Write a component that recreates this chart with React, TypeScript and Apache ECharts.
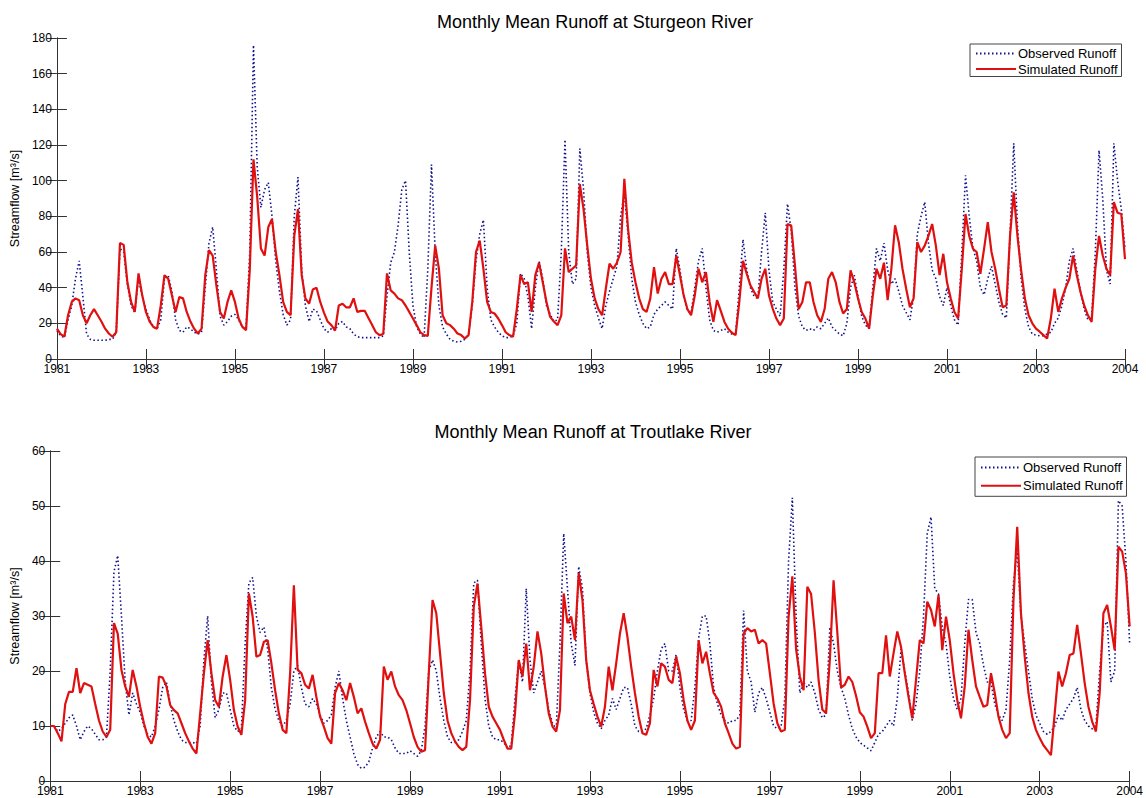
import React, { useEffect, useRef } from "react";
import * as echarts from "echarts";

const tickLabels = ["1981", "1983", "1985", "1987", "1989", "1991", "1993", "1995", "1997", "1999", "2001", "2003", "2004"];
const seriesNames = ["Observed Runoff", "Simulated Runoff"];
const titles = ["Monthly Mean Runoff at Sturgeon River", "Monthly Mean Runoff at Troutlake River"];
const yName = "Streamflow [m³/s]";

// Sturgeon River, monthly values from Jan 1981
const sturgeonObs = [
  16, 13, 12, 22, 30, 45, 55, 35, 14, 11, 10.5, 10.5,
  10.5, 10.5, 11, 11, 15, 62, 60, 42, 30, 26, 45, 35,
  28, 22, 18, 17, 22, 45, 47, 38, 22, 16, 15, 18,
  17, 15, 14, 15, 40, 65, 74, 50, 24, 19, 21, 24,
  25, 22, 18, 17, 60, 176, 108, 85, 95, 99, 80, 55,
  38, 25, 19, 22, 80, 102, 50, 30, 21, 28, 27, 22,
  17, 15, 17, 16, 20, 21, 18, 17, 14, 12.5, 12, 12,
  12, 12, 12, 12, 13, 35, 54, 60, 75, 95, 100, 60,
  30, 18, 14, 12, 50, 109, 60, 30, 18, 14, 11, 10,
  9.5, 10, 11, 14, 30, 55, 70, 78, 40, 22, 18, 15,
  13, 12, 12, 13, 20, 48, 45, 35, 17, 40, 55, 45,
  30, 25, 21, 22, 60, 123, 60, 42, 45, 118, 95, 60,
  40, 30, 23, 17, 30, 38, 45, 52, 80, 93, 70, 45,
  32, 25, 20, 17, 18, 25, 28, 30, 32, 30, 28, 62,
  50, 35, 27, 26, 40, 55, 62, 40, 22, 16, 15, 16,
  17, 15, 14, 14, 40, 67, 50, 40, 35, 34, 60, 82,
  50, 32, 28, 24, 50, 87, 72, 40, 24, 18, 16, 17,
  16, 18, 17, 20, 23, 18, 16, 14, 13, 20, 40, 47,
  35, 24, 19, 17, 40, 62, 55, 65, 50, 42, 45, 38,
  30, 26, 22, 35, 70, 80, 88, 65, 50, 45, 35, 30,
  40, 30, 22, 19, 60, 103, 80, 62, 55, 40, 36, 45,
  52, 42, 32, 25, 23, 70, 121, 75, 45, 28, 18, 14,
  13.4, 13, 13, 14, 15, 20, 23, 30, 40, 55, 62, 50,
  38, 28, 22, 23, 60, 117, 90, 50, 42, 121, 100, 84,
  62,
];
const sturgeonSim = [
  17, 14, 12.5, 24.5, 32, 34, 33, 24.5, 20, 24.5, 28, 24.5,
  21, 17, 14.3, 12.5, 15, 65, 64, 43, 32, 26.4, 48, 35.7,
  26.4, 21, 18, 17, 30, 47, 45, 35.7, 26.4, 34.8, 34, 26.4,
  21, 17, 14.3, 17, 47, 61, 58, 41.3, 26.4, 22.7, 32, 38.5,
  32, 22.7, 18, 16.2, 50, 112, 91, 62, 58, 74, 78.5, 60,
  47, 32, 26.4, 24.5, 69, 84, 47, 34, 31, 39, 40, 32,
  26, 21, 19, 16, 30, 31, 29, 29, 34, 26.4, 27, 27,
  23, 19, 15, 13.4, 14, 48, 38.5, 36.7, 34, 33, 30, 26.4,
  22.7, 19, 15, 13.4, 13, 40, 63.6, 50.6, 24.5, 20, 19, 17,
  14.3, 13.4, 11.5, 13.4, 32, 60, 66.4, 50.6, 32, 26.4, 25.5, 22.7,
  19, 15, 13.4, 12.5, 28, 47, 42, 43, 26.4, 47, 54, 43,
  32, 23.6, 21, 19, 24.5, 62, 48.7, 50.6, 52.5, 98, 84, 63.6,
  45, 34, 28, 24.5, 39.4, 53.4, 50.6, 54, 60, 101, 73, 54,
  43, 34, 28, 26.4, 34, 51.5, 36.7, 45, 48.7, 42, 42, 58,
  47, 35.7, 28, 24.5, 35.7, 50.6, 43, 48.7, 32, 20.8, 33, 27,
  20.8, 17, 14.7, 13.4, 32, 55, 47.8, 41.3, 37.6, 34, 45, 50.6,
  35.7, 28.3, 22.7, 19, 22.7, 75.7, 74.8, 52.5, 28, 32, 43, 43,
  32, 24.5, 20.8, 28, 45, 48.7, 43, 32, 25.5, 28, 49.7, 43,
  34, 26.4, 22.7, 17, 35.7, 50.6, 45, 54, 33, 50.6, 75, 65.5,
  50.6, 39.4, 29, 34, 65.5, 60, 63.6, 69, 75.7, 63.6, 47, 59,
  43, 34, 26.4, 22.7, 50.6, 81.3, 69, 61.8, 60, 47.8, 61.8, 76.7,
  60, 50.6, 39.4, 29, 30, 69, 93.4, 69, 49.7, 34, 24.5, 20,
  17, 15.3, 13.4, 11.5, 22.7, 39.4, 26.4, 34, 40, 45, 58, 47,
  37.6, 30, 24.5, 20.8, 50.6, 69, 58, 50.6, 47, 88, 82, 81.3,
  56,
];

// Troutlake River, monthly values from Jan 1981
const troutlakeObs = [
  10, 10, 9, 9.5, 10.5, 11.5, 12, 10, 7.5, 9, 10, 9.5,
  8.5, 7.5, 7.5, 8, 20, 38, 41, 30, 18, 12, 16, 14,
  12.5, 10, 8.5, 8, 10, 13, 17, 18, 14, 11, 9, 7.5,
  7, 7, 7, 6.8, 10, 22, 30, 18, 11.5, 13, 16, 16,
  13, 10, 9, 9.5, 25, 36, 37, 30, 27, 28, 24, 17,
  13, 11, 10, 11, 14, 20, 21, 17, 14, 13.5, 15, 14,
  12, 10.5, 11, 12, 17, 20, 15, 11, 8, 5, 3, 2.3,
  2.5, 3.5, 6, 8, 9, 8, 8, 7.5, 6, 5, 5, 5,
  5.5, 5, 4.5, 5.5, 10, 20, 22, 20, 15, 11, 8, 7,
  7, 7.5, 9, 11, 20, 36, 36.5, 25, 15, 10, 8, 7.5,
  7.5, 7, 6, 6.5, 15, 22, 18, 35, 22, 16, 18, 20,
  17, 13, 10.5, 9.5, 25, 45, 35, 25, 21, 39, 35, 22,
  16, 12.5, 10.5, 9.5, 11, 12, 15, 13, 15, 17, 17, 14,
  10, 9, 9, 9.5, 12, 15, 20, 24, 25, 20, 20, 23,
  17, 13, 11, 11, 17, 26, 30, 30, 25, 17, 14, 12,
  11, 10.5, 11, 11, 12, 31, 20, 18, 12.5, 16, 17, 15,
  12.5, 10, 9.5, 10, 15, 40, 51.5, 30, 16, 18, 17, 18,
  16, 13, 11.5, 12, 28, 25, 20, 17, 15, 12, 9.5, 8,
  7, 6.5, 6, 5.5, 7, 8.5, 9, 10, 11, 10, 15, 24,
  20, 16, 11, 14, 20, 30, 45, 48, 35, 34, 28, 25,
  19, 15, 13, 15, 25, 33, 33, 27, 25, 21, 18, 18,
  14, 12, 11, 13, 22, 36, 42, 30, 25, 20, 15, 12,
  10.5, 9, 8.5, 9, 10, 12, 11, 13, 14, 15, 17, 13,
  11, 10, 9.5, 10, 20, 28, 29, 18, 20, 51, 50, 40,
  25,
];
const troutlakeSim = [
  10, 10, 8.7, 7.2, 14, 16.2, 16.2, 20.5, 16, 17.8, 17.5, 17.2,
  14, 11, 9, 8, 9.3, 28.7, 26.8, 20.2, 17.2, 15.3, 20.2, 17.2,
  13.5, 10.5, 8, 6.8, 8.7, 19, 18.8, 17.2, 13.8, 12.9, 12.3, 10.5,
  8.7, 7.2, 5.9, 5, 12.3, 19.6, 25.6, 19.6, 14.7, 13.5, 19, 22.9,
  18.4, 12.9, 9.9, 8.4, 14.7, 34.1, 29.9, 22.6, 22.9, 25.3, 25.6, 21.4,
  16.5, 12.3, 9.3, 8.7, 19.6, 35.6, 20.2, 19.6, 17.5, 16.8, 19.3, 15.3,
  11.7, 9.9, 7.8, 6.8, 16, 17.8, 16.5, 14.7, 17.8, 15.3, 12.3, 13.2,
  10.8, 8.7, 6.8, 5.9, 7.5, 20.8, 18.4, 19.9, 17.2, 15.6, 14.7, 12.9,
  10.5, 8, 6.2, 5.3, 5.6, 19.6, 32.9, 30.5, 23.2, 16, 11, 8.7,
  7.2, 6.2, 5.6, 6.2, 14.7, 31.7, 35.9, 28, 19.6, 13.5, 11.7, 10.5,
  9.3, 7.5, 5.9, 5.9, 12.3, 22, 19, 25, 16.5, 20.8, 27.2, 23.2,
  17.2, 12.3, 9.9, 9, 12.9, 34.1, 28.7, 29.9, 25.6, 37.8, 32.9, 22,
  16.5, 14, 11.7, 9.9, 13.5, 20.8, 16.5, 21.4, 26.8, 30.5, 26.2, 20.8,
  16, 11.7, 8.7, 8.4, 10.5, 20.2, 17.2, 21.4, 20.8, 18.4, 17.8, 22.6,
  19.6, 14.7, 11, 9.3, 11, 25.6, 21.4, 23.5, 19.6, 16, 15, 13.5,
  10.5, 8.7, 6.8, 5.9, 6.2, 26.8, 27.8, 27.2, 27.5, 25, 25.6, 25,
  19.6, 14.1, 10.5, 9, 9.3, 29.9, 37.2, 24, 19, 16.5, 35.3, 34,
  27, 18.4, 13, 12.3, 22, 36.5, 27, 17, 17.5, 19, 18, 15.5,
  12.5, 11.7, 9.9, 7.8, 8.7, 19.6, 19.6, 26.5, 19, 23.2, 27.2, 24.4,
  19.6, 15.3, 11.4, 18.4, 25.6, 25, 32.6, 31.1, 28.1, 33.8, 23.8, 29.9,
  25.6, 19.6, 14.7, 11.4, 17.2, 27.5, 22, 17.2, 15.3, 13.5, 13.8, 19.6,
  16, 11.7, 9.3, 7.8, 8.7, 32.9, 46.2, 30.5, 22.6, 16, 11.7, 9.3,
  7.8, 6.5, 5.6, 4.7, 12.3, 19.9, 17.2, 19.6, 22.9, 23.2, 28.4, 23.2,
  17.8, 13.5, 10.8, 9, 16, 30.5, 32, 28.1, 23.8, 42.6, 41.7, 37.8,
  28.1,
];

const FONT = '"Liberation Sans", Arial, Helvetica, sans-serif';
const AXIS_COLOR = "#333333";
const OBS_COLOR = "#11118a";
const SIM_COLOR = "#e01010";

const toPoints = (arr: number[]) => arr.map((v, i) => [i, v]);

export default function App() {
  const ref = useRef<HTMLDivElement>(null);

  useEffect(() => {
    if (!ref.current) return;
    const chart = echarts.init(ref.current, null, { renderer: "svg" });

    const grids = [
      { left: 56, top: 38, width: 1069, height: 321 },
      { left: 47, top: 451, width: 1083, height: 330 },
    ];
    const yMax = [180, 60];
    const yStep = [20, 10];

    const xFormatter = (v: number) => tickLabels[Math.round(v / 24)] ?? "";

    const xAxes: any[] = [];
    const yAxes: any[] = [];
    [0, 1].forEach((g) => {
      const common = {
        gridIndex: g,
        type: "value",
        min: 0,
        max: 288,
        interval: 24,
        splitLine: { show: false },
        axisLine: { show: true, lineStyle: { color: AXIS_COLOR, width: 1 } },
        axisTick: { show: true, inside: true, length: 10, lineStyle: { color: AXIS_COLOR } },
      };
      xAxes.push({
        ...common,
        position: "bottom",
        axisLabel: {
          show: true,
          margin: 4,
          formatter: xFormatter,
          showMinLabel: true,
          showMaxLabel: true,
          color: "#000",
          fontSize: 12,
          fontFamily: FONT,
        },
      });
      xAxes.push({ ...common, position: "top", axisLabel: { show: false } });
      const ycommon = {
        gridIndex: g,
        type: "value",
        min: 0,
        max: yMax[g],
        interval: yStep[g],
        splitLine: { show: false },
        axisLine: { show: true, lineStyle: { color: AXIS_COLOR, width: 1 } },
        axisTick: { show: true, inside: true, length: 10, lineStyle: { color: AXIS_COLOR } },
      };
      yAxes.push({
        ...ycommon,
        position: "left",
        name: yName,
        nameLocation: "middle",
        nameGap: g === 0 ? 31 : 27,
        nameTextStyle: { color: "#000", fontSize: 12.5, fontFamily: FONT },
        axisLabel: { show: true, margin: 5, color: "#000", fontSize: 12, fontFamily: FONT },
      });
      yAxes.push({ ...ycommon, position: "right", axisLabel: { show: false } });
    });

    const lineSeries = (name: string, data: number[], g: number, obs: boolean) => ({
      name,
      type: "line",
      xAxisIndex: g * 2,
      yAxisIndex: g * 2,
      data: toPoints(data),
      showSymbol: false,
      symbol: "none",
      silent: true,
      lineStyle: obs
        ? { color: OBS_COLOR, width: 1.6, type: [1.5, 2.5] }
        : { color: SIM_COLOR, width: 2.2, type: "solid" },
      itemStyle: { color: obs ? OBS_COLOR : SIM_COLOR },
      z: obs ? 2 : 3,
    });

    const legendBase = {
      data: seriesNames,
      orient: "vertical",
      itemWidth: 40,
      itemHeight: 12,
      borderColor: "#444",
      borderWidth: 1,
      backgroundColor: "#fff",
      selectedMode: false,
      itemStyle: { opacity: 0, borderWidth: 0 },
      textStyle: { fontSize: 13, color: "#000", fontFamily: FONT, lineHeight: 13, padding: [0, 0, 0, -3] },
      z: 10,
    };

    chart.setOption({
      animation: false,
      backgroundColor: "#ffffff",
      title: [
        {
          text: titles[0],
          left: 590,
          top: 8,
          textAlign: "center",
          textStyle: { fontSize: 18, fontWeight: "normal", color: "#000", fontFamily: FONT },
        },
        {
          text: titles[1],
          left: 588,
          top: 418,
          textAlign: "center",
          textStyle: { fontSize: 18, fontWeight: "normal", color: "#000", fontFamily: FONT },
        },
      ],
      legend: [
        { ...legendBase, left: 970, top: 44, padding: [3, 4, 1, 5], itemGap: 2.5 },
        { ...legendBase, left: 975, top: 457, padding: [4, 4, 4, 5], itemGap: 5.3 },
      ],
      grid: grids,
      xAxis: xAxes,
      yAxis: yAxes,
      series: [
        lineSeries(seriesNames[0], sturgeonObs, 0, true),
        lineSeries(seriesNames[1], sturgeonSim, 0, false),
        lineSeries(seriesNames[0], troutlakeObs, 1, true),
        lineSeries(seriesNames[1], troutlakeSim, 1, false),
      ],
    });

    return () => chart.dispose();
  }, []);

  return (
    <div
      ref={ref}
      style={{ position: "absolute", left: 0, top: 0, width: 1146, height: 798, background: "#fff" }}
    />
  );
}
